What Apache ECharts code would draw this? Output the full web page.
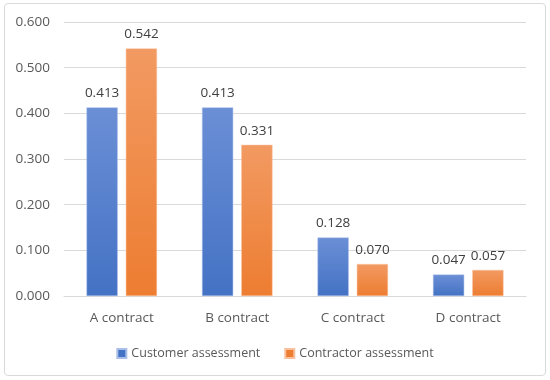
<!DOCTYPE html>
<html><head><meta charset="utf-8">
<script src="https://cdn.jsdelivr.net/npm/echarts@6/dist/echarts.min.js"></script>
<style>html,body{margin:0;padding:0;background:#fff}#c{width:550px;height:380px;position:relative}
#b{position:absolute;left:4px;top:3px;width:542px;height:373px;border:1px solid #d9d9d9;border-radius:4px;box-sizing:border-box;pointer-events:none}</style>
</head><body><div id="c"></div><div id="b"></div>
<script>
var categories = ['A contract','B contract','C contract','D contract'];
var customer = [0.413, 0.413, 0.128, 0.047];
var contractor = [0.542, 0.331, 0.070, 0.057];
var yTicks = [0, 0.1, 0.2, 0.3, 0.4, 0.5, 0.6];
var font = 'Open Sans';
function grad(top, bottom){return new echarts.graphic.LinearGradient(0,0,0,1,[{offset:0,color:top},{offset:1,color:bottom}]);}
var chart = echarts.init(document.getElementById('c'));
chart.setOption({
  animation:false,
  grid:{left:64,right:24,top:22,bottom:84},
  legend:{bottom:15,left:'center',itemWidth:9,itemHeight:9,itemGap:24,icon:'rect',
    textStyle:{color:'#595959',fontSize:12.5,fontFamily:font},
    data:[{name:'Customer assessment',itemStyle:{color:'#4472c4'}},{name:'Contractor assessment',itemStyle:{color:'#ed7d31'}}]},
  xAxis:{type:'category',data:categories,axisTick:{show:false},axisLine:{lineStyle:{color:'#d9d9d9'}},
    axisLabel:{color:'#595959',fontSize:13.5,fontFamily:font,margin:15}},
  yAxis:{type:'value',min:yTicks[0],max:yTicks[yTicks.length-1],interval:0.1,
    axisLabel:{color:'#595959',fontSize:13.5,fontFamily:font,margin:14,formatter:function(v){return v.toFixed(3);}},
    splitLine:{lineStyle:{color:'#d9d9d9'}},axisLine:{show:false},axisTick:{show:false}},
  series:[
    {name:'Customer assessment',type:'bar',data:customer,barWidth:'27%',barGap:'26%',
      itemStyle:{color:grad('#6b8fd6','#4472c4'),borderColor:'#aabfe8',borderWidth:0.5},
      label:{show:true,position:'top',distance:7,color:'#404040',fontSize:13.5,fontFamily:font,formatter:function(p){return p.value.toFixed(3);}}},
    {name:'Contractor assessment',type:'bar',data:contractor,barWidth:'27%',
      itemStyle:{color:grad('#f29a62','#ed7d31'),borderColor:'#f8c09c',borderWidth:0.5},
      label:{show:true,position:'top',distance:7,color:'#404040',fontSize:13.5,fontFamily:font,formatter:function(p){return p.value.toFixed(3);}}}
  ]
});
</script></body></html>
